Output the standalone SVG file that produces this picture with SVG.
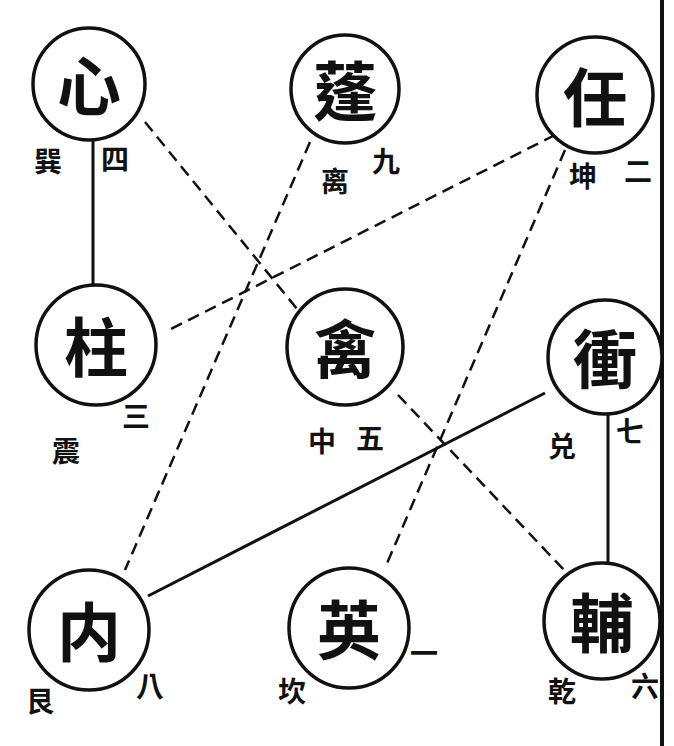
<svg xmlns="http://www.w3.org/2000/svg" width="674" height="746" viewBox="0 0 674 746">
<style>
.n{fill:#fff;stroke:#111;stroke-width:3.5}
.big{font-family:"Noto Sans CJK TC","Noto Sans CJK SC",serif;font-size:64px;font-weight:bold;fill:#111;text-anchor:middle;dominant-baseline:central}
.sm{font-family:"Noto Sans CJK TC","Noto Sans CJK SC",serif;font-size:28px;font-weight:bold;fill:#111;text-anchor:middle;dominant-baseline:central}
.solid{stroke:#111;stroke-width:3;fill:none}
.dash{stroke:#111;stroke-width:2.5;fill:none;stroke-dasharray:12 7}
</style>
<rect width="674" height="746" fill="#fff"/>
<line x1="662" y1="0" x2="662" y2="746" stroke="#111" stroke-width="4"/>
<g id="connectors">
<line class="solid" x1="93" y1="138" x2="93" y2="285"/>
<line class="dash" x1="145" y1="122" x2="302" y2="315"/>
<line class="dash" x1="310" y1="142" x2="125" y2="570"/>
<line class="dash" x1="555" y1="135" x2="165" y2="332"/>
<line class="dash" x1="565" y1="150" x2="385" y2="568"/>
<line class="solid" x1="545" y1="393" x2="148" y2="596"/>
<line class="dash" x1="398" y1="395" x2="566" y2="572"/>
<line class="solid" x1="608" y1="412" x2="608" y2="565"/>
</g>
<g id="xin"><circle class="n" cx="89" cy="84" r="56"/><text class="big" x="89" y="82">心</text><text class="sm" x="48" y="160">巽</text><text class="sm" x="115" y="158">四</text></g>
<g id="peng"><circle class="n" cx="345" cy="89" r="54"/><text class="big" x="345" y="87">蓬</text><text class="sm" x="335" y="180">离</text><text class="sm" x="386" y="160">九</text></g>
<g id="ren"><circle class="n" cx="595" cy="95" r="58"/><text class="big" x="595" y="93">任</text><text class="sm" x="583" y="175">坤</text><text class="sm" x="638" y="170">二</text></g>
<g id="zhu"><circle class="n" cx="96" cy="345" r="60"/><text class="big" x="96" y="343">柱</text><text class="sm" x="66" y="450">震</text><text class="sm" x="136" y="415">三</text></g>
<g id="qin"><circle class="n" cx="345" cy="347" r="58"/><text class="big" x="345" y="345">禽</text><text class="sm" x="322" y="440">中</text><text class="sm" x="370" y="437">五</text></g>
<g id="chong"><circle class="n" cx="605" cy="357" r="57"/><text class="big" x="605" y="355">衝</text><text class="sm" x="562" y="445">兑</text><text class="sm" x="630" y="430">七</text></g>
<g id="rui"><circle class="n" cx="89" cy="630" r="60"/><text class="big" x="89" y="628">内</text><text class="sm" x="40" y="700">艮</text><text class="sm" x="150" y="685">八</text></g>
<g id="ying"><circle class="n" cx="349" cy="628" r="60"/><text class="big" x="349" y="626">英</text><text class="sm" x="292" y="690">坎</text><text class="sm" x="424" y="652">一</text></g>
<g id="fu"><circle class="n" cx="602" cy="621" r="58"/><text class="big" x="602" y="619">輔</text><text class="sm" x="562" y="690">乾</text><text class="sm" x="645" y="685">六</text></g>
</svg>
